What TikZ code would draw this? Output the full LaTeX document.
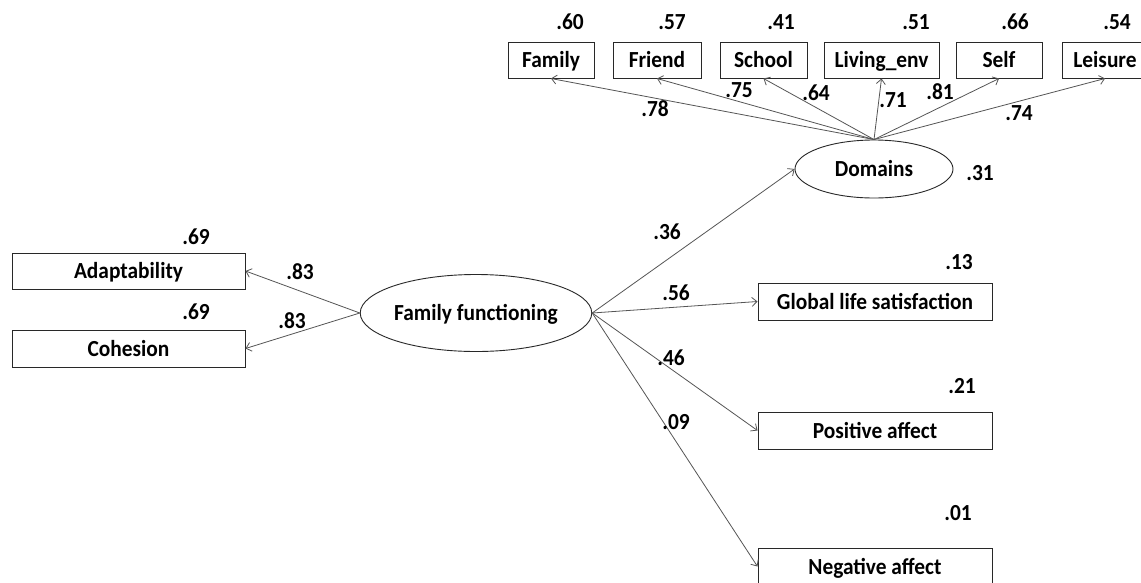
\documentclass[tikz,border=0pt]{standalone}
\usepackage{fontspec}
\setmainfont{Carlito}[FakeStretch=0.93]
\usetikzlibrary{arrows.meta,shapes.geometric}
\definecolor{boxline}{RGB}{40,40,40}
\definecolor{linegray}{RGB}{85,85,85}
\begin{document}
\begin{tikzpicture}[x=1pt,y=-1pt,
  lbl/.style={font=\fontsize{23}{26}\selectfont\bfseries},
  obs/.style={lbl, draw=boxline, line width=1pt, minimum height=36pt, inner sep=0pt,
    text height=18pt, text depth=3pt},
  lat/.style={lbl, ellipse, draw=boxline, line width=0.9pt, inner sep=0pt,
    text height=18pt, text depth=3pt},
  num/.style={lbl, inner sep=0pt},
  link/.style={draw=linegray, line width=0.8pt, -{Straight Barb[length=5pt,width=9pt]}},
]
\clip (0,0) rectangle (1141,582);
\fill[white] (0,0) rectangle (1141,582);

% latent variables
\node[lat, minimum width=158pt, minimum height=58pt] (dom) at (874,169) {Domains};
\node[lat, minimum width=187pt, minimum height=77pt] (ff) at (476,313) {Family functioning};

% life domain indicators
\node[obs, minimum width=86pt]  (fam)  at (551,60)    {Family};
\node[obs, minimum width=88pt]  (fri)  at (657,60)    {Friend};
\node[obs, minimum width=87pt]  (sch)  at (763.5,60)  {School};
\node[obs, minimum width=115pt] (liv)  at (881.5,60)  {Living\_env};
\node[obs, minimum width=86pt]  (slf)  at (999,60)    {Self};
\node[obs, minimum width=86pt]  (lei)  at (1105,60)   {Leisure};

% family functioning indicators
\node[obs, minimum width=233pt] (ada) at (128.5,271)   {Adaptability};
\node[obs, minimum width=233pt, minimum height=37pt] (coh) at (128.5,348.5) {Cohesion};

% outcomes
\node[obs, minimum width=234pt, minimum height=37pt] (gls) at (875,301.5) {Global life satisfaction};
\node[obs, minimum width=234pt, minimum height=37pt] (pos) at (875,430.5) {Positive affect};
\node[obs, minimum width=234pt, minimum height=37pt] (neg) at (875,566.5) {Negative affect};

% paths
\foreach \t in {fam,fri,sch,liv,slf,lei} \draw[link] (dom.north) -- (\t.south);
\draw[link] (ff.west) -- (ada.east);
\draw[link] (ff.west) -- (coh.east);
\draw[link] (ff.east) -- (dom.west);
\draw[link] (ff.east) -- (gls.west);
\draw[link] (ff.east) -- (pos.west);
\draw[link] (ff.east) -- (neg.west);

% explained variance
\node[num] (r60) at (570,22)  {.60};
\node[num] (r57) at (672,22)  {.57};
\node[num] (r41) at (781,22)  {.41};
\node[num] (r51) at (916,22)  {.51};
\node[num] (r66) at (1015,22) {.66};
\node[num] (r54) at (1117,22) {.54};
\node[num] (r31) at (980,173) {.31};
\node[num] (r69a) at (196,237) {.69};
\node[num] (r69b) at (196,312) {.69};
\node[num] (r13) at (959,262) {.13};
\node[num] (r21) at (962,386) {.21};
\node[num] (r01) at (958,513) {.01};

% path coefficients
\node[num] (l78) at (655,109) {.78};
\node[num] (l75) at (739,90)  {.75};
\node[num] (l64) at (816,93)  {.64};
\node[num] (l71) at (893,100) {.71};
\node[num] (l81) at (940,92)  {.81};
\node[num] (l74) at (1019,113) {.74};
\node[num] (l83a) at (300,272) {.83};
\node[num] (l83b) at (292,321) {.83};
\node[num] (l36) at (667,232) {.36};
\node[num] (l56) at (676,293) {.56};
\node[num] (l46) at (671,358) {.46};
\node[num] (l09) at (676,422) {.09};
\end{tikzpicture}
\end{document}
